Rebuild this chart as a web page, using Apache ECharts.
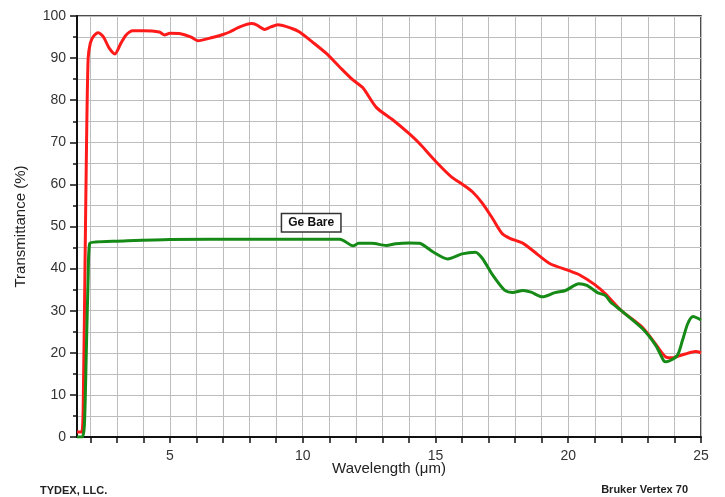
<!DOCTYPE html>
<html>
<head>
<meta charset="utf-8">
<script src="https://cdn.jsdelivr.net/npm/echarts@6/dist/echarts.min.js"></script>
<style>
  html, body { margin: 0; padding: 0; background: #fff; }
  #chart { width: 725px; height: 497px; }
</style>
</head>
<body>
<div id="chart"></div>
<script>
// 红色曲线 (wavelength µm, transmittance %)
const redCurve = [
  [1.5, 1.2], [1.68, 1.2], [1.75, 15], [1.8, 40], [1.86, 70], [1.92, 90], [2.0, 93.5],
  [2.1, 95], [2.3, 96], [2.5, 95], [2.7, 92.5], [2.93, 91], [3.15, 93.5], [3.35, 95.5],
  [3.6, 96.5], [4.0, 96.5], [4.6, 96.2], [4.8, 95.5], [5.0, 95.9], [5.4, 95.8], [5.8, 95],
  [6.05, 94.1], [6.6, 94.9], [7.0, 95.6], [7.25, 96.2], [7.63, 97.4], [8.07, 98.2],
  [8.26, 97.9], [8.57, 96.8], [8.8, 97.4], [9.06, 97.9], [9.57, 97.1], [9.88, 96.2],
  [10.37, 93.8], [10.89, 91.1], [11.39, 87.9], [11.89, 84.8], [12.26, 83], [12.77, 78.3],
  [13.4, 75.3], [14.0, 72.1], [14.4, 69.7], [15.02, 65.4], [15.6, 61.8], [16.0, 60.1],
  [16.4, 58.2], [16.77, 55.5], [17.15, 51.9], [17.5, 48.4], [17.8, 47.2], [18.3, 46],
  [18.8, 43.6], [19.3, 41.2], [20.03, 39.5], [20.4, 38.6], [21.0, 36.2], [21.4, 34],
  [22.0, 30], [22.8, 26], [23.3, 22], [23.7, 18.9], [23.9, 18.8], [24.4, 19.7],
  [24.8, 20.3], [25, 20]
]
// 绿色曲线 Ge Bare
const greenCurve = [
  [1.5, 0], [1.7, 0], [1.78, 3], [1.85, 20], [1.92, 38], [1.98, 46], [2.2, 46.3],
  [3, 46.5], [5, 46.9], [8, 47], [11.4, 47], [11.9, 45.4], [12.1, 46], [12.6, 46],
  [13.15, 45.5], [13.5, 45.9], [14.0, 46.1], [14.4, 46], [14.9, 44], [15.46, 42.3],
  [16.0, 43.5], [16.5, 43.9], [16.77, 42.4], [17.15, 38.5], [17.6, 34.9], [17.9, 34.3],
  [18.3, 34.8], [18.6, 34.4], [19.03, 33.3], [19.5, 34.3], [19.9, 34.8], [20.4, 36.4],
  [20.7, 36], [21.1, 34.3], [21.4, 33.6], [21.6, 32], [22.0, 30], [22.8, 25.7],
  [23.3, 21.7], [23.6, 18.1], [23.7, 17.9], [24.1, 19.3], [24.3, 22.9], [24.5, 26.9],
  [24.7, 28.6], [25, 27.8]
]
// 坐标轴刻度
const xTicks = [2, 3, 4, 5, 6, 7, 8, 9, 10, 11, 12, 13, 14, 15, 16, 17, 18, 19, 20, 21, 22, 23, 24, 25]
const xLabels = [5, 10, 15, 20, 25]
const labelPos = [10.32, 50.9]

const font = '"Liberation Sans", Arial, sans-serif'
const myChart = echarts.init(document.getElementById('chart'))

myChart.setOption({
  animation: false,
  grid: {
    left: 77, right: 24, top: 16, bottom: 60,
    show: true, borderColor: '#111', borderWidth: 1.5
  },
  xAxis: {
    type: 'value',
    min: 1.5,
    max: 25,
    name: 'Wavelength (μm)',
    nameLocation: 'middle',
    nameGap: 24,
    nameMoveOverlap: false,
    nameTextStyle: { fontFamily: font, fontSize: 15, color: '#222' },
    axisLine: { show: true, onZero: false, lineStyle: { color: '#111', width: 2 } },
    axisTick: { show: true, customValues: xTicks, length: 6, lineStyle: { color: '#111', width: 1.5 } },
    axisLabel: { customValues: xLabels, margin: 12, fontFamily: font, fontSize: 14, color: '#333' },
    splitLine: { show: true, lineStyle: { color: '#bdbdbd', width: 1 } }
  },
  yAxis: {
    type: 'value',
    min: 0,
    max: 100,
    interval: 10,
    name: 'Transmittance (%)',
    nameLocation: 'middle',
    nameGap: 49,
    nameTextStyle: { fontFamily: font, fontSize: 15, color: '#222' },
    axisLine: { show: true, lineStyle: { color: '#111', width: 2 } },
    axisTick: { show: true, length: 7, lineStyle: { color: '#111', width: 1.5 } },
    minorTick: { show: true, splitNumber: 2, length: 4, lineStyle: { color: '#111', width: 1.5 } },
    axisLabel: { margin: 11, fontFamily: font, fontSize: 14, color: '#333' },
    splitLine: { show: true, lineStyle: { color: '#bdbdbd', width: 1 } },
    minorSplitLine: { show: true, lineStyle: { color: '#bdbdbd', width: 1 } }
  },
  series: [
    {
      name: 'Red',
      type: 'line',
      data: redCurve,
      smooth: 0.25,
      showSymbol: false,
      lineStyle: { color: '#ff1a1a', width: 3 },
      z: 3
    },
    {
      name: 'Ge Bare',
      type: 'line',
      data: greenCurve,
      smooth: 0.25,
      showSymbol: false,
      lineStyle: { color: '#168a16', width: 3 },
      z: 4,
      markPoint: {
        symbol: 'rect',
        symbolSize: 0,
        data: [{ coord: labelPos }],
        label: {
          show: true,
          position: 'inside',
          formatter: 'Ge Bare',
          fontFamily: font,
          fontSize: 12,
          fontWeight: 'bold',
          color: '#111',
          backgroundColor: '#fff',
          borderColor: '#333',
          borderWidth: 1.5,
          padding: [3, 6, 2, 6]
        }
      }
    }
  ],
  graphic: [
    {
      type: 'text', left: 40, top: 485,
      style: { text: 'TYDEX, LLC.', font: 'bold 11px ' + font, fill: '#222' }
    },
    {
      type: 'text', right: 37, top: 484,
      style: { text: 'Bruker Vertex 70', font: 'bold 11px ' + font, fill: '#222' }
    }
  ]
})
</script>
</body>
</html>
